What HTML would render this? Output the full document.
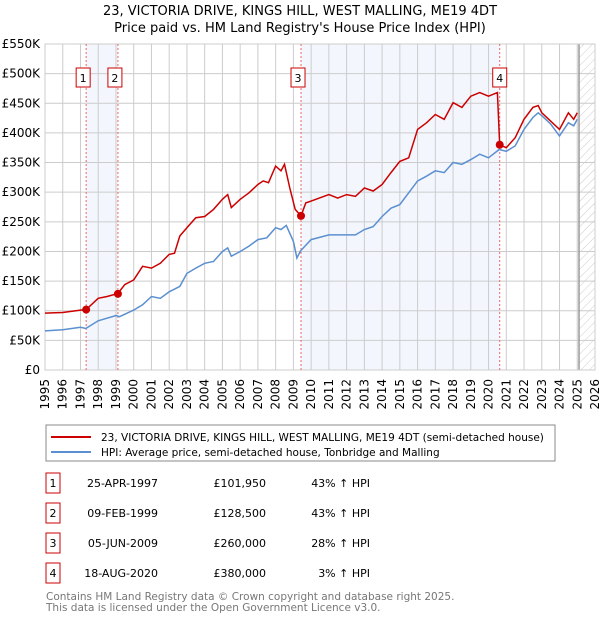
<!DOCTYPE html>
<html><head><meta charset="utf-8"><style>
body{margin:0;background:#fff;font-family:"Liberation Sans","DejaVu Sans",sans-serif;}
svg text{font-family:"DejaVu Sans","Liberation Sans",sans-serif;}
</style></head><body>
<svg id="c" width="600" height="620" xmlns="http://www.w3.org/2000/svg">
<defs><pattern id="hatch" width="6" height="6" patternUnits="userSpaceOnUse" patternTransform="rotate(45)"><line x1="0" y1="0" x2="0" y2="6" stroke="#ccc" stroke-width="1"/></pattern></defs>
<text x="300" y="15" text-anchor="middle" font-size="13">23, VICTORIA DRIVE, KINGS HILL, WEST MALLING, ME19 4DT</text>
<text x="300" y="32" text-anchor="middle" font-size="13">Price paid vs. HM Land Registry's House Price Index (HPI)</text>
<g id="plot"></g>
<rect x="46" y="425" width="509" height="36" fill="#fff" stroke="#888"/>
<line x1="51" y1="437" x2="91" y2="437" stroke="#cc0000" stroke-width="2"/>
<text x="101" y="441" font-size="10.5">23, VICTORIA DRIVE, KINGS HILL, WEST MALLING, ME19 4DT (semi-detached house)</text>
<line x1="51" y1="452" x2="91" y2="452" stroke="#5b8fd0" stroke-width="2"/>
<text x="101" y="456" font-size="10.5">HPI: Average price, semi-detached house, Tonbridge and Malling</text>
<g id="table" font-size="11"></g>
<text x="46" y="600" font-size="10.5" fill="#777">Contains HM Land Registry data © Crown copyright and database right 2025.</text>
<text x="46" y="611" font-size="10.5" fill="#777">This data is licensed under the Open Government Licence v3.0.</text>
</svg>
<script>
const hpiYears=[1995,1996,1997,1997.3,1998,1999,1999.2,2000,2000.5,2001,2001.5,2002,2002.6,2003,2003.5,2004,2004.5,2005,2005.3,2005.5,2006,2006.5,2007,2007.5,2008,2008.3,2008.6,2009,2009.2,2009.4,2010,2011,2012,2012.5,2013,2013.5,2014,2014.5,2015,2015.5,2016,2016.5,2017,2017.5,2018,2018.5,2019,2019.5,2020,2020.6,2021,2021.5,2022,2022.5,2022.8,2023,2023.5,2024,2024.5,2024.8,2025];
const hpiValues=[66,68,72,70,83,92,90,101,110,124,121,132,141,163,172,180,183,200,206,192,200,209,220,223,240,237,244,217,189,201,220,228,228,228,237,242,259,273,279,299,319,327,336,333,350,347,355,364,358,372,369,378,406,426,434,429,415,395,417,412,423];
const redYears=[1995,1996,1997,1997.32,1998,1998.5,1999.11,1999.5,2000,2000.5,2001,2001.5,2002,2002.3,2002.6,2003,2003.5,2004,2004.5,2005,2005.3,2005.5,2006,2006.5,2007,2007.3,2007.6,2008,2008.3,2008.5,2008.8,2009.1,2009.43,2009.7,2010,2011,2011.5,2012,2012.5,2013,2013.5,2014,2014.5,2015,2015.5,2016,2016.5,2017,2017.5,2018,2018.5,2019,2019.5,2020,2020.5,2020.63,2021,2021.5,2022,2022.5,2022.8,2023,2023.5,2024,2024.5,2024.8,2025];
const redValues=[96,97,101,102,121,124,129,144,152,175,172,180,195,197,226,240,257,259,271,288,296,274,288,299,313,319,316,344,336,347,307,271,260,282,285,296,290,296,293,307,302,313,333,352,358,406,417,431,423,451,443,462,468,462,468,380,375,392,423,443,446,434,420,406,434,423,434];
const saleYears=[1997.32,1999.11,2009.43,2020.63];
const saleValues=[101.95,128.5,260,380];
const saleLabels=["1","2","3","4"];
const saleDates=["25-APR-1997","09-FEB-1999","05-JUN-2009","18-AUG-2020"];
const salePrices=["£101,950","£128,500","£260,000","£380,000"];
const saleHpi=["43% ↑ HPI","43% ↑ HPI","28% ↑ HPI","3% ↑ HPI"];
const yTicks=[0,50,100,150,200,250,300,350,400,450,500,550];
const yTickLabels=["£0","£50K","£100K","£150K","£200K","£250K","£300K","£350K","£400K","£450K","£500K","£550K"];
const xTicks=[1995,1996,1997,1998,1999,2000,2001,2002,2003,2004,2005,2006,2007,2008,2009,2010,2011,2012,2013,2014,2015,2016,2017,2018,2019,2020,2021,2022,2023,2024,2025,2026];

const X0=45,X1=595,Y0=370,Y1=44;
const xs=y=>X0+(y-1995)/(2026-1995)*(X1-X0);
const ys=v=>Y0-v/550*(Y0-Y1);
const NS="http://www.w3.org/2000/svg";
const plot=document.getElementById('plot');
function mk(tag,attrs,parent){const e=document.createElementNS(NS,tag);for(const k in attrs)e.setAttribute(k,attrs[k]);(parent||plot).appendChild(e);return e;}

let e;
e=mk('rect',{x:xs(saleYears[0]),y:Y1,width:xs(saleYears[1])-xs(saleYears[0]),height:Y0-Y1,fill:'#eef3fc',opacity:0.7});


e=mk('rect',{x:xs(saleYears[2]),y:Y1,width:xs(saleYears[3])-xs(saleYears[2]),height:Y0-Y1,fill:'#eef3fc',opacity:0.7});


e=mk('rect',{x:xs(2025.1),y:Y1,width:X1-xs(2025.1),height:Y0-Y1,fill:'url(#hatch)'});



xTicks.forEach(t=>{
  e=mk('line',{x1:xs(t),x2:xs(t),y1:Y1,y2:Y0,stroke:'#ccc','stroke-width':1});
  
  
  const tx=xs(t)+4,ty=379;
  e=mk('text',{x:tx,y:ty,'text-anchor':'end','font-size':12,transform:`rotate(-90 ${tx} ${ty})`});
  e.textContent=t;
  
  
});
yTicks.forEach((t,i)=>{
  e=mk('line',{x1:X0,x2:X1,y1:ys(t),y2:ys(t),stroke:'#ccc','stroke-width':1});
  
  
  e=mk('text',{x:X0-5,y:ys(t)+4,'text-anchor':'end','font-size':12});
  e.textContent=yTickLabels[i];
  
  
});
e=mk('line',{x1:xs(2025.1),x2:xs(2025.1),y1:Y1,y2:Y0,stroke:'#999','stroke-width':1.5});


e=mk('rect',{x:X0,y:Y1,width:X1-X0,height:Y0-Y1,fill:'none',stroke:'#ccc'});



saleYears.forEach((s,i)=>{
  e=mk('line',{x1:xs(s),x2:xs(s),y1:Y1,y2:Y0,stroke:'#e66','stroke-width':1,'stroke-dasharray':'2,2'});
  
  
});

const path=(xa,va)=>xa.map((y,i)=>(i?'L':'M')+xs(y).toFixed(1)+','+ys(va[i]).toFixed(1)).join('');
e=mk('path',{d:path(hpiYears,hpiValues),fill:'none',stroke:'#5b8fd0','stroke-width':1.5});


e=mk('path',{d:path(redYears,redValues),fill:'none',stroke:'#cc0000','stroke-width':1.5});



saleYears.forEach((s,i)=>{
  e=mk('circle',{cx:xs(s),cy:ys(saleValues[i]),r:4,fill:'#cc0000'});
  
  
  const bx=xs(s)-(i==3?0:3)-7;
  e=mk('rect',{x:bx,y:68,width:14,height:19,fill:'#fff',stroke:'#cc0000'});
  
  
  e=mk('text',{x:bx+7,y:82,'text-anchor':'middle','font-size':11});
  e.textContent=saleLabels[i];
  
  
});

const tbl=document.getElementById('table');
saleLabels.forEach((l,i)=>{
  const cy=483+i*30;
  e=mk('rect',{x:46,y:cy-10,width:14,height:20,fill:'#fff',stroke:'#cc0000'},tbl);
  
  
  e=mk('text',{x:53,y:cy+4,'text-anchor':'middle'},tbl);e.textContent=l;
  
  
  e=mk('text',{x:158,y:cy+4,'text-anchor':'end'},tbl);e.textContent=saleDates[i];
  
  
  e=mk('text',{x:266,y:cy+4,'text-anchor':'end'},tbl);e.textContent=salePrices[i];
  
  
  e=mk('text',{x:370,y:cy+4,'text-anchor':'end'},tbl);e.textContent=saleHpi[i];
  
  
});
</script>
</body></html>
